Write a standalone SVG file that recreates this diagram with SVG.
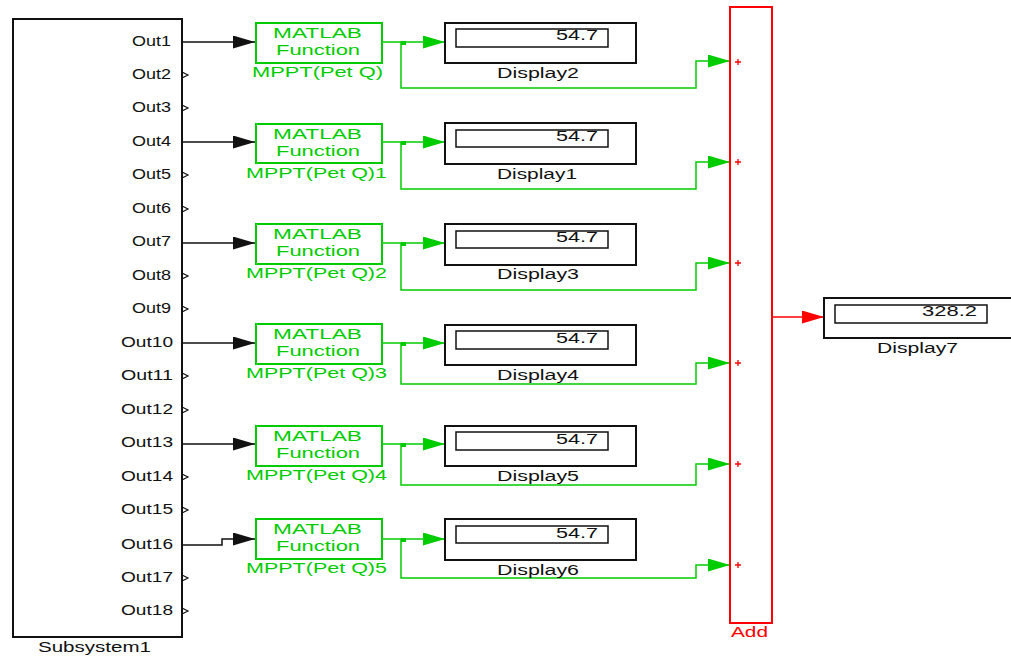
<svg xmlns="http://www.w3.org/2000/svg" width="1011" height="657" viewBox="0 0 1011 657">
<style>
text{font-family:"Liberation Sans",Arial,sans-serif;font-size:14px}
.blk{fill:#111}
.grn{fill:#00cc00}
.red{fill:#ff0000}
.bx{fill:#fff;stroke:#111;stroke-width:2}
.ibx{fill:#fff;stroke:#111;stroke-width:1.5}
.fbx{fill:#fff;stroke:#00cc00;stroke-width:2}
.wb{fill:none;stroke:#111;stroke-width:1.5}
.wg{fill:none;stroke:#00cc00;stroke-width:1.5}
.wr{fill:none;stroke:#ff0000;stroke-width:1.5}
.chev{fill:none;stroke:#111;stroke-width:1.2}
</style>
<defs>
<marker id="ab" markerUnits="userSpaceOnUse" markerWidth="23" markerHeight="14" refX="22" refY="6.5" orient="auto"><path d="M0,0 L22,6.5 L0,13 z" fill="#111"/></marker>
<marker id="ag" markerUnits="userSpaceOnUse" markerWidth="23" markerHeight="14" refX="22" refY="6.5" orient="auto"><path d="M0,0 L22,6.5 L0,13 z" fill="#00cc00"/></marker>
<marker id="ar" markerUnits="userSpaceOnUse" markerWidth="23" markerHeight="14" refX="22" refY="6.5" orient="auto"><path d="M0,0 L22,6.5 L0,13 z" fill="#ff0000"/></marker>
</defs>

<g id="connectors">
<path class="wb" d="M182,42 H255" marker-end="url(#ab)"/>
<path class="wb" d="M182,142 H255" marker-end="url(#ab)"/>
<path class="wb" d="M182,243 H255" marker-end="url(#ab)"/>
<path class="wb" d="M182,343 H255" marker-end="url(#ab)"/>
<path class="wb" d="M182,444 H255" marker-end="url(#ab)"/>
<path class="wb" d="M182,545 H222 V539 H255" marker-end="url(#ab)"/>

<path class="wg" d="M382,42 H445" marker-end="url(#ag)"/>
<path class="wg" d="M401,42 V88 H696 V61 H730" marker-end="url(#ag)"/>
<rect x="401" y="41" width="5" height="4" fill="#00cc00"/>
<path class="wg" d="M382,142 H445" marker-end="url(#ag)"/>
<path class="wg" d="M401,142 V189 H696 V162 H730" marker-end="url(#ag)"/>
<rect x="401" y="141" width="5" height="4" fill="#00cc00"/>
<path class="wg" d="M382,243 H445" marker-end="url(#ag)"/>
<path class="wg" d="M401,243 V290 H696 V263 H730" marker-end="url(#ag)"/>
<rect x="401" y="242" width="5" height="4" fill="#00cc00"/>
<path class="wg" d="M382,343 H445" marker-end="url(#ag)"/>
<path class="wg" d="M401,343 V384 H696 V363 H730" marker-end="url(#ag)"/>
<rect x="401" y="342" width="5" height="4" fill="#00cc00"/>
<path class="wg" d="M382,444 H445" marker-end="url(#ag)"/>
<path class="wg" d="M401,444 V485 H696 V464 H730" marker-end="url(#ag)"/>
<rect x="401" y="443" width="5" height="4" fill="#00cc00"/>
<path class="wg" d="M382,539 H445" marker-end="url(#ag)"/>
<path class="wg" d="M401,539 V578 H696 V565 H730" marker-end="url(#ag)"/>
<rect x="401" y="538" width="5" height="4" fill="#00cc00"/>

<path class="wr" d="M772,317 H824" marker-end="url(#ar)"/>
</g>

<g id="subsystem1">
<rect class="bx" x="13" y="19" width="169" height="618"/>
<text class="blk" x="38" y="652" textLength="113" lengthAdjust="spacingAndGlyphs">Subsystem1</text>
<text class="blk" x="132" y="46" textLength="39" lengthAdjust="spacingAndGlyphs">Out1</text>
<text class="blk" x="132" y="79" textLength="39" lengthAdjust="spacingAndGlyphs">Out2</text>
<text class="blk" x="132" y="112" textLength="39" lengthAdjust="spacingAndGlyphs">Out3</text>
<text class="blk" x="132" y="146" textLength="39" lengthAdjust="spacingAndGlyphs">Out4</text>
<text class="blk" x="132" y="179" textLength="39" lengthAdjust="spacingAndGlyphs">Out5</text>
<text class="blk" x="132" y="213" textLength="39" lengthAdjust="spacingAndGlyphs">Out6</text>
<text class="blk" x="132" y="246" textLength="39" lengthAdjust="spacingAndGlyphs">Out7</text>
<text class="blk" x="132" y="280" textLength="39" lengthAdjust="spacingAndGlyphs">Out8</text>
<text class="blk" x="132" y="313" textLength="39" lengthAdjust="spacingAndGlyphs">Out9</text>
<text class="blk" x="121" y="347" textLength="52" lengthAdjust="spacingAndGlyphs">Out10</text>
<text class="blk" x="121" y="380" textLength="52" lengthAdjust="spacingAndGlyphs">Out11</text>
<text class="blk" x="121" y="414" textLength="52" lengthAdjust="spacingAndGlyphs">Out12</text>
<text class="blk" x="121" y="447" textLength="52" lengthAdjust="spacingAndGlyphs">Out13</text>
<text class="blk" x="121" y="481" textLength="52" lengthAdjust="spacingAndGlyphs">Out14</text>
<text class="blk" x="121" y="514" textLength="52" lengthAdjust="spacingAndGlyphs">Out15</text>
<text class="blk" x="121" y="549" textLength="52" lengthAdjust="spacingAndGlyphs">Out16</text>
<text class="blk" x="121" y="582" textLength="52" lengthAdjust="spacingAndGlyphs">Out17</text>
<text class="blk" x="121" y="615" textLength="52" lengthAdjust="spacingAndGlyphs">Out18</text>
<path class="chev" d="M182,72 L188,75 L182,78 M182,105 L188,108 L182,111 M182,172 L188,175 L182,178 M182,206 L188,209 L182,212 M182,273 L188,276 L182,279 M182,306 L188,309 L182,312 M182,373 L188,376 L182,379 M182,407 L188,410 L182,413 M182,474 L188,477 L182,480 M182,507 L188,510 L182,513 M182,575 L188,578 L182,581 M182,608 L188,611 L182,614"/>
</g>

<g id="mppt0">
<rect class="fbx" x="256" y="23" width="126" height="40"/>
<text class="grn" x="273" y="38" textLength="89" lengthAdjust="spacingAndGlyphs">MATLAB</text>
<text class="grn" x="276" y="55" textLength="84" lengthAdjust="spacingAndGlyphs">Function</text>
<text class="grn" x="252" y="77" textLength="131" lengthAdjust="spacingAndGlyphs">MPPT(Pet Q)</text>
</g>
<g id="mppt1">
<rect class="fbx" x="256" y="124" width="126" height="39"/>
<text class="grn" x="273" y="139" textLength="89" lengthAdjust="spacingAndGlyphs">MATLAB</text>
<text class="grn" x="276" y="156" textLength="84" lengthAdjust="spacingAndGlyphs">Function</text>
<text class="grn" x="246" y="178" textLength="141" lengthAdjust="spacingAndGlyphs">MPPT(Pet Q)1</text>
</g>
<g id="mppt2">
<rect class="fbx" x="256" y="224" width="126" height="40"/>
<text class="grn" x="273" y="239" textLength="89" lengthAdjust="spacingAndGlyphs">MATLAB</text>
<text class="grn" x="276" y="256" textLength="84" lengthAdjust="spacingAndGlyphs">Function</text>
<text class="grn" x="246" y="278" textLength="141" lengthAdjust="spacingAndGlyphs">MPPT(Pet Q)2</text>
</g>
<g id="mppt3">
<rect class="fbx" x="256" y="324" width="126" height="40"/>
<text class="grn" x="273" y="339" textLength="89" lengthAdjust="spacingAndGlyphs">MATLAB</text>
<text class="grn" x="276" y="356" textLength="84" lengthAdjust="spacingAndGlyphs">Function</text>
<text class="grn" x="246" y="378" textLength="141" lengthAdjust="spacingAndGlyphs">MPPT(Pet Q)3</text>
</g>
<g id="mppt4">
<rect class="fbx" x="256" y="426" width="126" height="40"/>
<text class="grn" x="273" y="441" textLength="89" lengthAdjust="spacingAndGlyphs">MATLAB</text>
<text class="grn" x="276" y="458" textLength="84" lengthAdjust="spacingAndGlyphs">Function</text>
<text class="grn" x="246" y="480" textLength="141" lengthAdjust="spacingAndGlyphs">MPPT(Pet Q)4</text>
</g>
<g id="mppt5">
<rect class="fbx" x="256" y="519" width="126" height="40"/>
<text class="grn" x="273" y="534" textLength="89" lengthAdjust="spacingAndGlyphs">MATLAB</text>
<text class="grn" x="276" y="551" textLength="84" lengthAdjust="spacingAndGlyphs">Function</text>
<text class="grn" x="246" y="573" textLength="141" lengthAdjust="spacingAndGlyphs">MPPT(Pet Q)5</text>
</g>

<g id="display2">
<rect class="bx" x="445" y="23" width="191" height="40"/>
<rect class="ibx" x="456" y="29" width="152" height="18"/>
<text class="blk" x="556" y="40" textLength="42" lengthAdjust="spacingAndGlyphs">54.7</text>
<text class="blk" x="497" y="78" textLength="82" lengthAdjust="spacingAndGlyphs">Display2</text>
</g>
<g id="display1">
<rect class="bx" x="445" y="123" width="191" height="41"/>
<rect class="ibx" x="456" y="130" width="152" height="17"/>
<text class="blk" x="556" y="141" textLength="42" lengthAdjust="spacingAndGlyphs">54.7</text>
<text class="blk" x="497" y="179" textLength="80" lengthAdjust="spacingAndGlyphs">Display1</text>
</g>
<g id="display3">
<rect class="bx" x="445" y="224" width="191" height="41"/>
<rect class="ibx" x="456" y="231" width="152" height="17"/>
<text class="blk" x="556" y="242" textLength="42" lengthAdjust="spacingAndGlyphs">54.7</text>
<text class="blk" x="497" y="279" textLength="82" lengthAdjust="spacingAndGlyphs">Display3</text>
</g>
<g id="display4">
<rect class="bx" x="445" y="325" width="191" height="40"/>
<rect class="ibx" x="456" y="331" width="152" height="18"/>
<text class="blk" x="556" y="343" textLength="42" lengthAdjust="spacingAndGlyphs">54.7</text>
<text class="blk" x="497" y="380" textLength="82" lengthAdjust="spacingAndGlyphs">Display4</text>
</g>
<g id="display5">
<rect class="bx" x="445" y="426" width="191" height="40"/>
<rect class="ibx" x="456" y="432" width="152" height="18"/>
<text class="blk" x="556" y="444" textLength="42" lengthAdjust="spacingAndGlyphs">54.7</text>
<text class="blk" x="497" y="481" textLength="82" lengthAdjust="spacingAndGlyphs">Display5</text>
</g>
<g id="display6">
<rect class="bx" x="445" y="519" width="191" height="41"/>
<rect class="ibx" x="456" y="526" width="152" height="17"/>
<text class="blk" x="556" y="538" textLength="42" lengthAdjust="spacingAndGlyphs">54.7</text>
<text class="blk" x="497" y="575" textLength="82" lengthAdjust="spacingAndGlyphs">Display6</text>
</g>

<g id="add">
<rect x="730" y="7" width="42" height="616" fill="#fff" stroke="#ff0000" stroke-width="2"/>
<path d="M735,62 h6 M738,59 v6 M735,162 h6 M738,159 v6 M735,263 h6 M738,260 v6 M735,363 h6 M738,360 v6 M735,464 h6 M738,461 v6 M735,565 h6 M738,562 v6" stroke="#ff0000" stroke-width="1.3"/>
<text class="red" x="731" y="637" textLength="37" lengthAdjust="spacingAndGlyphs">Add</text>
</g>

<g id="display7">
<rect class="bx" x="824" y="298" width="195" height="40"/>
<rect class="ibx" x="835" y="305" width="152" height="18"/>
<text class="blk" x="922" y="316" textLength="55" lengthAdjust="spacingAndGlyphs">328.2</text>
<text class="blk" x="877" y="353" textLength="81" lengthAdjust="spacingAndGlyphs">Display7</text>
</g>
</svg>
